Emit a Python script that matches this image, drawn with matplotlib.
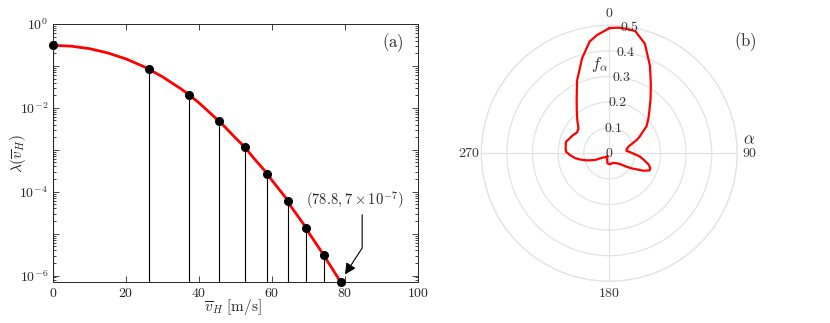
import numpy as np
import matplotlib
matplotlib.use("Agg")
import matplotlib.pyplot as plt
from matplotlib.ticker import FixedLocator, LogLocator, NullFormatter, FuncFormatter

plt.rcParams['font.family'] = 'serif'
plt.rcParams['font.serif'] = ['cmr10', 'DejaVu Serif']
plt.rcParams['mathtext.fontset'] = 'cm'
plt.rcParams['axes.unicode_minus'] = False
plt.rcParams['axes.formatter.use_mathtext'] = True

# ---------------- data ----------------
# panel (a): exceedance rate curve
curve_v = [0, 5, 10, 15, 20, 25, 26.3, 30, 35, 37.3, 40, 45, 45.5, 50, 52.6,
           55, 58.7, 60, 64.4, 65, 69.4, 70, 74.2, 75, 78.8]
curve_lam = [0.310, 0.296, 0.258, 0.204, 0.147, 0.0951, 0.083, 0.0550, 0.0286,
             0.0204, 0.01315, 0.00525, 0.0049, 0.00191, 0.00114, 6.31e-4,
             2.7e-4, 1.86e-4, 6.1e-5, 4.68e-5, 1.36e-5, 1.07e-5, 3.05e-6,
             2.34e-6, 7e-7]
# discrete points with stems
pts_v = [0, 26.3, 37.3, 45.5, 52.6, 58.7, 64.4, 69.4, 74.2, 78.8]
pts_lam = [0.31, 0.083, 0.0204, 0.0049, 0.00114, 2.7e-4, 6.1e-5, 1.36e-5,
           3.05e-6, 7e-7]
x_ticks = [0, 20, 40, 60, 80, 100]
y_major = [1e0, 1e-1, 1e-2, 1e-3, 1e-4, 1e-5, 1e-6]
y_labeled = [1e0, 1e-2, 1e-4, 1e-6]

# panel (b): direction distribution f_alpha (degrees clockwise from north)
alpha_deg = [0, 4, 8, 12, 18, 25, 31, 37, 43, 48, 54, 61, 64, 70, 76, 82, 88,
             96, 101, 106, 110, 113, 117, 124, 128, 134, 140, 150, 160, 176,
             190, 200, 215, 225, 235, 245, 252, 258, 262, 267.5, 272, 277,
             285, 297, 303, 309, 316, 323, 328.5, 336, 344, 350, 354, 360]
f_alpha = [0.489, 0.492, 0.491, 0.488, 0.450, 0.376, 0.315, 0.268, 0.230,
           0.206, 0.180, 0.136, 0.120, 0.082, 0.070, 0.068, 0.085, 0.120,
           0.138, 0.160, 0.170, 0.171, 0.150, 0.105, 0.085, 0.062, 0.052,
           0.044, 0.040, 0.043, 0.040, 0.025, 0.012, 0.022, 0.028, 0.062,
           0.090, 0.117, 0.135, 0.154, 0.169, 0.172, 0.175, 0.158, 0.150,
           0.155, 0.180, 0.211, 0.244, 0.310, 0.386, 0.443, 0.464, 0.489]
r_ticks = [0, 0.1, 0.2, 0.3, 0.4, 0.5]
theta_ticks = [0, 90, 180, 270]

# ---------------- figure ----------------
W, H = 830, 323
fig = plt.figure(figsize=(W / 100, H / 100), dpi=100)

dark = '#262626'
ax = fig.add_axes([53 / W, 1 - 282 / H, 365 / W, 258 / H])
ax.set_yscale('log')
ax.vlines(pts_v, 7e-7, pts_lam, colors='black', linewidth=0.8, zorder=2)
ax.plot(curve_v, curve_lam, color='#ff0000', linewidth=2.0, zorder=3,
        solid_capstyle='round')
ax.plot(pts_v, pts_lam, 'o', color='black', markersize=5.5, zorder=4,
        clip_on=False)
ax.set_xlim(0, 100)
ax.set_ylim(7e-7, 1)
ax.set_xticks(x_ticks)
ax.xaxis.set_major_formatter(FuncFormatter(lambda v, p: r'$%g$' % v))
ax.yaxis.set_major_locator(FixedLocator(y_major))
ax.yaxis.set_minor_locator(LogLocator(base=10, subs=np.arange(2, 10), numticks=20))
ax.yaxis.set_minor_formatter(NullFormatter())


def yfmt(v, p):
    for t in y_labeled:
        if abs(np.log10(v) - np.log10(t)) < 1e-6:
            return r'$10^{%d}$' % round(np.log10(v))
    return ''


ax.yaxis.set_major_formatter(FuncFormatter(yfmt))
ax.tick_params(which='both', direction='in', top=True, right=True,
               colors=dark, labelsize=10, width=0.6)
ax.tick_params(which='major', length=4)
ax.tick_params(which='minor', length=2)
for s in ax.spines.values():
    s.set_color(dark)
    s.set_linewidth(0.7)
ax.set_xlabel(r'$\overline{v}_H\ [\mathrm{m/s}]$', fontsize=11, color=dark)
ax.xaxis.set_label_coords(0.493, -0.097)
ax.xaxis.label.set_va('center')
ax.set_ylabel(r'$\lambda(\overline{v}_H)$', fontsize=11, color=dark)
ax.yaxis.set_label_coords(-0.096, 0.5)
ax.yaxis.label.set_va('center')
ax.text(0.9315, 0.926, r'$\mathrm{(a)}$', transform=ax.transAxes,
        ha='center', va='center', fontsize=12, color=dark)

# annotation
ax.text(82.7, 6.4e-5, r'$(78.8, 7\times10^{-7})$', ha='center', va='center',
        fontsize=10.5, color=dark)
ax.annotate('', xy=(80.0, 1.06e-6), xytext=(84.7, 2.83e-5),
            arrowprops=dict(arrowstyle='-|>,head_length=0.6,head_width=0.3',
                            connectionstyle='angle,angleA=-90,angleB=57,rad=0',
                            color='black', lw=0.8, shrinkA=0, shrinkB=0,
                            mutation_scale=11))

# ---------------- polar ----------------
grid_c = '#e3e3e3'
pax = fig.add_axes([481.3 / W, 1 - 281.3 / H, 256 / W, 256 / H],
                   projection='polar')
pax.set_theta_zero_location('N')
pax.set_theta_direction(-1)
pax.plot(np.deg2rad(alpha_deg), f_alpha, color='#ff0000', linewidth=1.6,
         zorder=3)
pax.set_ylim(0, 0.5)
pax.set_yticks(r_ticks)
pax.set_yticklabels([])
pax.set_xticks(np.deg2rad(theta_ticks))
pax.set_xticklabels([])
pax.grid(True, color=grid_c, linewidth=0.9)
pax.spines['polar'].set_color(grid_c)
pax.spines['polar'].set_linewidth(0.9)
pax.tick_params(length=0)
for r in r_ticks:
    pax.text(np.deg2rad(9), r, r'$%g$' % r, ha='center', va='center',
             fontsize=10, color='#333333', zorder=4)
for t in theta_ticks:
    pax.text(np.deg2rad(t), 0.547, r'$%d$' % t, ha='center', va='center',
             fontsize=10, color='#333333', clip_on=False)
pax.text(np.deg2rad(84.6), 0.548, r'$\alpha$', ha='center', va='center',
         fontsize=12, color='#333333', clip_on=False)
pax.text(np.deg2rad(-6), 0.347, r'$f_\alpha$', ha='center', va='center',
         fontsize=12, color='#333333')
fig.text(745 / W, 1 - 42 / H, r'$\mathrm{(b)}$', ha='center', va='center',
         fontsize=12, color=dark)

fig.savefig('out.png', dpi=100)
